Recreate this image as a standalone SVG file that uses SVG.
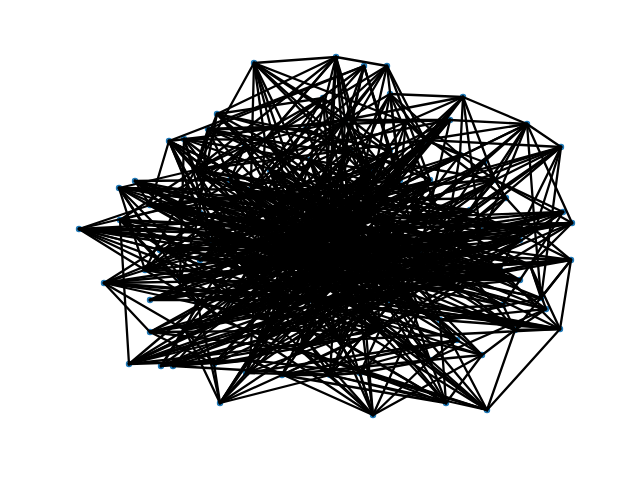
<svg xmlns="http://www.w3.org/2000/svg" width="640" height="480" viewBox="0 0 640 480">
<style>
rect.bg{fill:#fff}
#nodes circle{fill:#1f77b4}
#edges path{stroke:#000;stroke-width:2.3;fill:none;stroke-linecap:round}
</style>
<rect class="bg" width="640" height="480"/>
<g id="nodes">
<g id="a1"><circle cx="254" cy="63" r="3.2"/></g>
<g id="a2"><circle cx="336" cy="57" r="3.2"/></g>
<g id="a3"><circle cx="364" cy="66" r="3.2"/></g>
<g id="a4"><circle cx="387" cy="66" r="3.2"/></g>
<g id="a5"><circle cx="463" cy="97" r="3.2"/></g>
<g id="a6"><circle cx="527" cy="124" r="3.2"/></g>
<g id="a7"><circle cx="561" cy="147" r="3.2"/></g>
<g id="a8"><circle cx="217" cy="114" r="3.2"/></g>
<g id="a9"><circle cx="208" cy="129" r="3.2"/></g>
<g id="a10"><circle cx="169" cy="141" r="3.2"/></g>
<g id="a11"><circle cx="184" cy="139" r="3.2"/></g>
<g id="a12"><circle cx="135" cy="181" r="3.2"/></g>
<g id="a13"><circle cx="119" cy="188" r="3.2"/></g>
<g id="a14"><circle cx="79" cy="229" r="3.2"/></g>
<g id="a15"><circle cx="104" cy="283" r="3.2"/></g>
<g id="a16"><circle cx="150" cy="332" r="3.2"/></g>
<g id="a17"><circle cx="129" cy="364" r="3.2"/></g>
<g id="a18"><circle cx="161" cy="366" r="3.2"/></g>
<g id="a19"><circle cx="173" cy="366" r="3.2"/></g>
<g id="a20"><circle cx="220" cy="403" r="3.2"/></g>
<g id="a21"><circle cx="246" cy="373" r="3.2"/></g>
<g id="a22"><circle cx="282" cy="375" r="3.2"/></g>
<g id="a23"><circle cx="373" cy="415" r="3.2"/></g>
<g id="a24"><circle cx="446" cy="403" r="3.2"/></g>
<g id="a25"><circle cx="487" cy="410" r="3.2"/></g>
<g id="a26"><circle cx="482" cy="355" r="3.2"/></g>
<g id="a27"><circle cx="560" cy="329" r="3.2"/></g>
<g id="a28"><circle cx="546" cy="309" r="3.2"/></g>
<g id="a29"><circle cx="541" cy="298" r="3.2"/></g>
<g id="a30"><circle cx="571" cy="260" r="3.2"/></g>
<g id="a31"><circle cx="572" cy="223" r="3.2"/></g>
<g id="a32"><circle cx="563" cy="212" r="3.2"/></g>
<g id="a33"><circle cx="506" cy="198" r="3.2"/></g>
<g id="a34"><circle cx="484" cy="162" r="3.2"/></g>
<g id="a35"><circle cx="450" cy="120" r="3.2"/></g>
<g id="a36"><circle cx="406" cy="122" r="3.2"/></g>
<g id="a37"><circle cx="390" cy="94" r="3.2"/></g>
<g id="a38"><circle cx="323" cy="98" r="3.2"/></g>
<g id="a39"><circle cx="306" cy="129" r="3.2"/></g>
<g id="a40"><circle cx="245" cy="146" r="3.2"/></g>
<g id="a41"><circle cx="200" cy="213" r="3.2"/></g>
<g id="a42"><circle cx="120" cy="220" r="3.2"/></g>
<g id="a43"><circle cx="197" cy="302" r="3.2"/></g>
<g id="a44"><circle cx="214" cy="364" r="3.2"/></g>
<g id="a45"><circle cx="503" cy="305" r="3.2"/></g>
<g id="a46"><circle cx="457" cy="340" r="3.2"/></g>
<g id="a47"><circle cx="460" cy="155" r="3.2"/></g>
<g id="a48"><circle cx="360" cy="373" r="3.2"/></g>
<g id="i1"><circle cx="230" cy="180" r="3.2"/></g>
<g id="i2"><circle cx="270" cy="170" r="3.2"/></g>
<g id="i3"><circle cx="310" cy="160" r="3.2"/></g>
<g id="i4"><circle cx="350" cy="150" r="3.2"/></g>
<g id="i5"><circle cx="390" cy="150" r="3.2"/></g>
<g id="i6"><circle cx="430" cy="180" r="3.2"/></g>
<g id="i7"><circle cx="470" cy="210" r="3.2"/></g>
<g id="i8"><circle cx="520" cy="240" r="3.2"/></g>
<g id="i9"><circle cx="500" cy="270" r="3.2"/></g>
<g id="i10"><circle cx="460" cy="290" r="3.2"/></g>
<g id="i11"><circle cx="420" cy="310" r="3.2"/></g>
<g id="i12"><circle cx="380" cy="330" r="3.2"/></g>
<g id="i13"><circle cx="340" cy="340" r="3.2"/></g>
<g id="i14"><circle cx="300" cy="350" r="3.2"/></g>
<g id="i15"><circle cx="260" cy="340" r="3.2"/></g>
<g id="i16"><circle cx="220" cy="320" r="3.2"/></g>
<g id="i17"><circle cx="180" cy="280" r="3.2"/></g>
<g id="i18"><circle cx="160" cy="250" r="3.2"/></g>
<g id="i19"><circle cx="170" cy="210" r="3.2"/></g>
<g id="i20"><circle cx="210" cy="240" r="3.2"/></g>
<g id="i21"><circle cx="250" cy="220" r="3.2"/></g>
<g id="i22"><circle cx="290" cy="200" r="3.2"/></g>
<g id="i23"><circle cx="330" cy="190" r="3.2"/></g>
<g id="i24"><circle cx="370" cy="200" r="3.2"/></g>
<g id="i25"><circle cx="410" cy="220" r="3.2"/></g>
<g id="i26"><circle cx="450" cy="240" r="3.2"/></g>
<g id="i27"><circle cx="480" cy="230" r="3.2"/></g>
<g id="i28"><circle cx="440" cy="270" r="3.2"/></g>
<g id="i29"><circle cx="400" cy="270" r="3.2"/></g>
<g id="i30"><circle cx="360" cy="260" r="3.2"/></g>
<g id="i31"><circle cx="320" cy="250" r="3.2"/></g>
<g id="i32"><circle cx="280" cy="260" r="3.2"/></g>
<g id="i33"><circle cx="240" cy="270" r="3.2"/></g>
<g id="i34"><circle cx="200" cy="260" r="3.2"/></g>
<g id="i35"><circle cx="270" cy="300" r="3.2"/></g>
<g id="i36"><circle cx="310" cy="300" r="3.2"/></g>
<g id="i37"><circle cx="350" cy="300" r="3.2"/></g>
<g id="i38"><circle cx="390" cy="300" r="3.2"/></g>
<g id="i39"><circle cx="330" cy="220" r="3.2"/></g>
<g id="i40"><circle cx="290" cy="230" r="3.2"/></g>
<g id="i41"><circle cx="250" cy="190" r="3.2"/></g>
<g id="i42"><circle cx="350" cy="230" r="3.2"/></g>
<g id="i43"><circle cx="420" cy="250" r="3.2"/></g>
<g id="i44"><circle cx="230" cy="300" r="3.2"/></g>
<g id="i45"><circle cx="300" cy="280" r="3.2"/></g>
<g id="i46"><circle cx="370" cy="170" r="3.2"/></g>
<g id="i47"><circle cx="150" cy="300" r="3.2"/></g>
<g id="i48"><circle cx="520" cy="280" r="3.2"/></g>
<g id="r1"><circle cx="195" cy="170" r="3.2"/></g>
<g id="r2"><circle cx="265" cy="140" r="3.2"/></g>
<g id="r3"><circle cx="345" cy="120" r="3.2"/></g>
<g id="r4"><circle cx="425" cy="140" r="3.2"/></g>
<g id="r5"><circle cx="495" cy="180" r="3.2"/></g>
<g id="r6"><circle cx="535" cy="230" r="3.2"/></g>
<g id="r7"><circle cx="530" cy="265" r="3.2"/></g>
<g id="r8"><circle cx="515" cy="330" r="3.2"/></g>
<g id="r9"><circle cx="430" cy="360" r="3.2"/></g>
<g id="r10"><circle cx="330" cy="375" r="3.2"/></g>
<g id="r11"><circle cx="250" cy="360" r="3.2"/></g>
<g id="r12"><circle cx="185" cy="330" r="3.2"/></g>
<g id="r13"><circle cx="145" cy="270" r="3.2"/></g>
<g id="r14"><circle cx="150" cy="205" r="3.2"/></g>
<g id="r15"><circle cx="400" cy="180" r="3.2"/></g>
<g id="r16"><circle cx="270" cy="320" r="3.2"/></g>
<g id="r17"><circle cx="440" cy="320" r="3.2"/></g>
<g id="r18"><circle cx="200" cy="200" r="3.2"/></g>
</g>
<g id="edges">
<path d="M254 63L336 57"/><path d="M254 63L350 150"/><path d="M254 63L430 180"/><path d="M254 63L406 122"/><path d="M254 63L290 200"/><path d="M254 63L410 220"/><path d="M254 63L250 220"/>
<path d="M336 57L230 180"/><path d="M336 57L217 114"/><path d="M336 57L310 160"/><path d="M336 57L370 200"/><path d="M336 57L370 170"/><path d="M336 57L387 66"/><path d="M336 57L330 190"/>
<path d="M364 66L270 170"/><path d="M364 66L169 141"/><path d="M364 66L390 150"/><path d="M364 66L320 250"/><path d="M364 66L208 129"/><path d="M364 66L410 220"/>
<path d="M387 66L250 190"/><path d="M387 66L290 230"/><path d="M387 66L350 230"/><path d="M387 66L430 180"/><path d="M387 66L310 160"/>
<path d="M463 97L390 94"/><path d="M463 97L527 124"/><path d="M463 97L406 122"/><path d="M463 97L370 200"/><path d="M463 97L460 155"/><path d="M463 97L480 230"/><path d="M463 97L330 220"/>
<path d="M527 124L561 147"/><path d="M527 124L450 120"/><path d="M527 124L484 162"/><path d="M527 124L450 240"/><path d="M527 124L410 220"/><path d="M527 124L460 290"/><path d="M527 124L572 223"/>
<path d="M561 147L500 270"/><path d="M561 147L420 250"/><path d="M561 147L470 210"/><path d="M561 147L450 240"/><path d="M561 147L541 298"/>
<path d="M217 114L350 150"/><path d="M217 114L390 150"/><path d="M217 114L323 98"/><path d="M217 114L350 230"/><path d="M217 114L360 260"/><path d="M217 114L245 146"/>
<path d="M208 129L310 160"/><path d="M208 129L370 200"/><path d="M208 129L306 129"/><path d="M208 129L320 250"/><path d="M208 129L250 220"/><path d="M208 129L450 120"/>
<path d="M169 141L290 230"/><path d="M169 141L240 270"/><path d="M169 141L290 200"/><path d="M169 141L210 240"/><path d="M169 141L200 213"/><path d="M169 141L330 220"/><path d="M169 141L250 220"/>
<path d="M184 139L330 190"/><path d="M184 139L250 190"/><path d="M184 139L280 260"/><path d="M184 139L180 280"/><path d="M184 139L370 170"/><path d="M184 139L230 300"/>
<path d="M135 181L250 220"/><path d="M135 181L230 180"/><path d="M135 181L290 230"/><path d="M135 181L240 270"/><path d="M135 181L200 213"/><path d="M135 181L300 280"/>
<path d="M119 188L160 250"/><path d="M119 188L230 300"/><path d="M119 188L330 220"/><path d="M119 188L280 260"/><path d="M119 188L197 302"/><path d="M119 188L210 240"/>
<path d="M79 229L250 220"/><path d="M79 229L200 260"/><path d="M79 229L280 260"/><path d="M79 229L320 250"/><path d="M79 229L210 240"/><path d="M79 229L160 250"/><path d="M79 229L270 300"/>
<path d="M120 220L290 230"/><path d="M120 220L240 270"/><path d="M120 220L310 300"/><path d="M120 220L197 302"/><path d="M120 220L220 320"/>
<path d="M104 283L250 190"/><path d="M104 283L240 270"/><path d="M104 283L230 300"/><path d="M104 283L150 332"/><path d="M104 283L300 280"/><path d="M104 283L210 240"/>
<path d="M150 332L280 260"/><path d="M150 332L270 300"/><path d="M150 332L300 350"/><path d="M150 332L310 300"/><path d="M150 332L214 364"/>
<path d="M129 364L120 220"/><path d="M129 364L240 270"/><path d="M129 364L220 320"/><path d="M129 364L270 300"/><path d="M129 364L340 340"/><path d="M129 364L310 300"/><path d="M129 364L300 280"/>
<path d="M161 366L250 220"/><path d="M161 366L320 250"/><path d="M161 366L350 300"/><path d="M161 366L260 340"/>
<path d="M173 366L310 300"/><path d="M173 366L380 330"/><path d="M173 366L390 300"/><path d="M173 366L230 300"/>
<path d="M220 403L214 364"/><path d="M220 403L260 340"/><path d="M220 403L310 300"/><path d="M220 403L300 350"/><path d="M220 403L197 302"/><path d="M220 403L282 375"/>
<path d="M246 373L350 300"/><path d="M246 373L420 310"/><path d="M246 373L457 340"/>
<path d="M282 375L446 403"/><path d="M282 375L457 340"/><path d="M282 375L380 330"/><path d="M282 375L460 290"/>
<path d="M373 415L300 350"/><path d="M373 415L260 340"/><path d="M373 415L420 310"/><path d="M373 415L482 355"/><path d="M373 415L360 373"/><path d="M373 415L340 340"/><path d="M373 415L270 300"/>
<path d="M446 403L220 320"/><path d="M446 403L270 300"/><path d="M446 403L340 340"/><path d="M446 403L482 355"/><path d="M446 403L350 300"/>
<path d="M487 410L560 329"/><path d="M487 410L300 350"/><path d="M487 410L380 330"/><path d="M487 410L360 373"/><path d="M487 410L260 340"/><path d="M487 410L350 300"/>
<path d="M482 355L380 330"/><path d="M482 355L310 300"/><path d="M482 355L400 270"/><path d="M482 355L390 300"/>
<path d="M560 329L500 270"/><path d="M560 329L420 310"/><path d="M560 329L390 300"/><path d="M560 329L440 270"/><path d="M560 329L350 300"/><path d="M560 329L571 260"/>
<path d="M546 309L460 290"/><path d="M546 309L450 240"/><path d="M546 309L400 270"/><path d="M546 309L350 230"/>
<path d="M541 298L360 260"/><path d="M541 298L400 270"/><path d="M541 298L420 250"/>
<path d="M571 260L440 270"/><path d="M571 260L400 270"/><path d="M571 260L470 210"/><path d="M571 260L320 250"/><path d="M571 260L541 298"/>
<path d="M572 223L450 240"/><path d="M572 223L390 300"/><path d="M572 223L350 230"/><path d="M572 223L460 290"/>
<path d="M563 212L420 250"/><path d="M563 212L480 230"/><path d="M563 212L420 310"/><path d="M563 212L350 300"/><path d="M563 212L360 260"/>
<path d="M506 198L440 270"/><path d="M506 198L370 200"/><path d="M506 198L380 330"/><path d="M506 198L400 270"/>
<path d="M484 162L390 300"/><path d="M484 162L410 220"/><path d="M484 162L350 230"/><path d="M484 162L360 260"/><path d="M484 162L506 198"/>
<path d="M450 120L350 230"/><path d="M450 120L420 250"/><path d="M450 120L370 200"/><path d="M450 120L330 220"/><path d="M450 120L290 200"/>
<path d="M406 122L360 260"/><path d="M406 122L250 190"/><path d="M406 122L320 250"/><path d="M406 122L506 198"/>
<path d="M390 94L350 300"/><path d="M390 94L330 190"/><path d="M390 94L330 220"/><path d="M390 94L460 155"/><path d="M390 94L450 240"/>
<path d="M323 98L390 150"/><path d="M323 98L330 190"/><path d="M323 98L250 220"/><path d="M323 98L250 190"/><path d="M323 98L360 260"/>
<path d="M306 129L270 170"/><path d="M306 129L350 230"/><path d="M306 129L430 180"/><path d="M306 129L480 230"/>
<path d="M245 146L370 200"/><path d="M245 146L230 180"/><path d="M245 146L290 230"/><path d="M245 146L320 250"/><path d="M245 146L170 210"/>
<path d="M200 213L320 250"/><path d="M200 213L360 260"/><path d="M200 213L270 300"/><path d="M200 213L180 280"/>
<path d="M197 302L360 260"/><path d="M197 302L340 340"/><path d="M197 302L400 270"/><path d="M197 302L260 340"/>
<path d="M214 364L340 340"/><path d="M214 364L320 250"/><path d="M214 364L350 300"/><path d="M214 364L270 300"/>
<path d="M503 305L280 260"/><path d="M503 305L360 260"/><path d="M503 305L420 310"/><path d="M503 305L460 290"/><path d="M503 305L440 270"/>
<path d="M457 340L240 270"/><path d="M457 340L360 260"/><path d="M457 340L310 300"/><path d="M457 340L420 310"/>
<path d="M460 155L410 220"/><path d="M460 155L440 270"/><path d="M460 155L250 220"/><path d="M460 155L330 220"/>
<path d="M360 373L310 300"/><path d="M360 373L240 270"/><path d="M360 373L420 310"/><path d="M360 373L380 330"/>
<path d="M230 180L520 240"/><path d="M230 180L400 270"/><path d="M230 180L300 280"/>
<path d="M270 170L390 300"/><path d="M270 170L360 260"/><path d="M270 170L460 290"/>
<path d="M310 160L240 270"/><path d="M310 160L220 320"/><path d="M310 160L440 270"/>
<path d="M350 150L200 260"/><path d="M350 150L270 300"/><path d="M350 150L500 270"/>
<path d="M390 150L180 280"/><path d="M390 150L230 300"/><path d="M390 150L320 250"/>
<path d="M430 180L210 240"/><path d="M430 180L310 300"/><path d="M430 180L260 340"/>
<path d="M470 210L290 230"/><path d="M470 210L240 270"/><path d="M470 210L340 340"/>
<path d="M520 240L280 260"/><path d="M520 240L380 330"/>
<path d="M500 270L250 220"/><path d="M500 270L310 300"/>
<path d="M460 290L170 210"/><path d="M460 290L290 200"/>
<path d="M420 310L230 180"/><path d="M420 310L330 190"/>
<path d="M380 330L250 190"/><path d="M380 330L370 200"/>
<path d="M340 340L270 170"/><path d="M340 340L370 170"/>
<path d="M300 350L390 150"/><path d="M300 350L410 220"/>
<path d="M260 340L450 240"/><path d="M260 340L370 200"/>
<path d="M220 320L480 230"/><path d="M220 320L420 250"/>
<path d="M180 280L350 230"/><path d="M180 280L450 240"/>
<path d="M160 250L330 220"/><path d="M160 250L420 250"/>
<path d="M170 210L400 270"/><path d="M170 210L350 300"/>
<path d="M210 240L500 270"/><path d="M210 240L380 330"/>
<path d="M250 220L390 300"/><path d="M250 220L440 270"/>
<path d="M290 200L300 280"/><path d="M290 200L520 280"/>
<path d="M330 190L200 260"/><path d="M330 190L300 350"/>
<path d="M370 200L230 300"/><path d="M370 200L200 260"/>
<path d="M410 220L240 270"/><path d="M410 220L270 300"/>
<path d="M450 240L250 190"/><path d="M450 240L300 350"/>
<path d="M480 230L300 280"/><path d="M480 230L280 260"/>
<path d="M440 270L290 230"/><path d="M440 270L300 350"/>
<path d="M400 270L250 190"/><path d="M400 270L150 300"/>
<path d="M360 260L150 300"/><path d="M360 260L170 210"/>
<path d="M320 250L520 280"/><path d="M320 250L470 210"/>
<path d="M280 260L430 180"/><path d="M280 260L370 170"/>
<path d="M240 270L370 170"/><path d="M200 260L520 280"/><path d="M270 300L370 170"/><path d="M310 300L390 150"/>
<path d="M350 300L230 180"/><path d="M350 300L250 190"/><path d="M390 300L160 250"/>
<path d="M330 220L260 340"/><path d="M330 220L420 310"/><path d="M290 230L460 290"/>
<path d="M350 230L220 320"/><path d="M350 230L150 300"/><path d="M420 250L200 260"/>
<path d="M230 300L450 240"/><path d="M300 280L520 240"/><path d="M370 170L160 250"/>
<path d="M150 300L390 300"/><path d="M520 280L310 160"/><path d="M520 280L210 240"/>
<path d="M230 300L380 330"/><path d="M300 280L430 180"/><path d="M180 280L460 290"/><path d="M170 210L370 170"/>
<path d="M230 180L460 290"/><path d="M230 180L390 300"/><path d="M230 180L450 240"/><path d="M230 180L340 340"/>
<path d="M270 170L440 270"/><path d="M270 170L380 330"/><path d="M270 170L310 300"/><path d="M270 170L500 270"/>
<path d="M310 160L260 340"/><path d="M310 160L350 300"/><path d="M310 160L230 300"/><path d="M310 160L520 240"/>
<path d="M350 150L220 320"/><path d="M350 150L310 300"/><path d="M350 150L420 310"/><path d="M350 150L240 270"/>
<path d="M390 150L270 300"/><path d="M390 150L260 340"/><path d="M390 150L210 240"/><path d="M390 150L280 260"/>
<path d="M430 180L240 270"/><path d="M430 180L340 340"/><path d="M430 180L230 300"/><path d="M430 180L200 260"/>
<path d="M470 210L200 260"/><path d="M470 210L260 340"/><path d="M470 210L310 300"/><path d="M470 210L290 200"/>
<path d="M520 240L250 220"/><path d="M520 240L270 300"/><path d="M520 240L290 230"/><path d="M520 240L300 350"/>
<path d="M500 270L280 260"/><path d="M500 270L290 230"/><path d="M500 270L250 190"/><path d="M500 270L330 190"/>
<path d="M460 290L250 220"/><path d="M460 290L240 270"/><path d="M460 290L330 190"/><path d="M460 290L310 160"/>
<path d="M420 310L210 240"/><path d="M420 310L280 260"/><path d="M420 310L250 190"/><path d="M420 310L270 170"/>
<path d="M380 330L160 250"/><path d="M380 330L250 220"/><path d="M380 330L290 200"/><path d="M380 330L310 160"/>
<path d="M340 340L210 240"/><path d="M340 340L410 220"/><path d="M340 340L370 200"/><path d="M340 340L250 190"/>
<path d="M300 350L480 230"/><path d="M300 350L370 200"/><path d="M300 350L350 230"/><path d="M300 350L430 180"/>
<path d="M260 340L440 270"/><path d="M260 340L350 230"/><path d="M260 340L330 190"/><path d="M260 340L480 230"/>
<path d="M220 320L450 240"/><path d="M220 320L360 260"/><path d="M220 320L410 220"/><path d="M220 320L370 200"/>
<path d="M180 280L420 250"/><path d="M180 280L480 230"/><path d="M180 280L360 260"/><path d="M180 280L370 200"/>
<path d="M160 250L350 230"/><path d="M160 250L400 270"/><path d="M160 250L450 240"/><path d="M160 250L300 280"/>
<path d="M170 210L320 250"/><path d="M170 210L420 250"/><path d="M170 210L390 300"/><path d="M170 210L350 230"/>
<path d="M210 240L400 270"/><path d="M210 240L450 240"/><path d="M210 240L360 260"/><path d="M210 240L420 250"/>
<path d="M150 300L320 250"/><path d="M150 300L400 270"/><path d="M150 300L330 220"/><path d="M150 300L350 230"/>
<path d="M520 280L280 260"/><path d="M520 280L290 230"/><path d="M520 280L330 220"/><path d="M520 280L310 300"/><path d="M520 280L300 280"/>
<path d="M300 280L420 250"/><path d="M300 280L450 240"/><path d="M300 280L370 200"/><path d="M300 280L500 270"/>
<path d="M370 170L310 300"/><path d="M370 170L300 350"/><path d="M370 170L300 280"/><path d="M370 170L230 300"/>
<path d="M290 200L390 300"/><path d="M290 200L400 270"/><path d="M290 200L420 250"/>
<path d="M330 190L270 300"/><path d="M330 190L230 300"/><path d="M330 190L340 340"/>
<path d="M330 220L230 300"/><path d="M330 220L350 300"/><path d="M330 220L310 300"/>
<path d="M250 190L310 300"/><path d="M250 190L320 250"/><path d="M250 190L420 250"/>
<path d="M290 230L350 300"/><path d="M290 230L390 300"/><path d="M290 230L420 250"/>
<path d="M350 230L240 270"/><path d="M350 230L270 300"/><path d="M350 230L300 350"/>
<path d="M79 229L350 230"/><path d="M79 229L360 260"/><path d="M79 229L450 240"/>
<path d="M119 188L290 200"/><path d="M119 188L250 190"/><path d="M119 188L320 250"/>
<path d="M135 181L330 220"/><path d="M135 181L280 260"/>
<path d="M169 141L320 250"/><path d="M169 141L350 230"/>
<path d="M120 220L320 250"/><path d="M120 220L350 230"/><path d="M120 220L360 260"/>
<path d="M104 283L310 300"/><path d="M104 283L320 250"/><path d="M104 283L350 300"/>
<path d="M129 364L350 300"/><path d="M129 364L390 300"/>
<path d="M150 332L350 300"/><path d="M150 332L380 330"/><path d="M150 332L320 250"/>
<path d="M572 223L320 250"/><path d="M572 223L360 260"/><path d="M572 223L290 230"/>
<path d="M571 260L350 300"/><path d="M571 260L350 230"/><path d="M571 260L300 280"/>
<path d="M563 212L350 230"/><path d="M563 212L330 220"/><path d="M563 212L320 250"/>
<path d="M560 329L310 300"/><path d="M560 329L340 340"/><path d="M560 329L300 280"/>
<path d="M561 147L350 230"/><path d="M561 147L370 200"/><path d="M561 147L330 220"/>
<path d="M527 124L330 220"/><path d="M527 124L370 200"/>
<path d="M463 97L350 230"/><path d="M463 97L320 250"/>
<path d="M336 57L320 250"/><path d="M336 57L350 230"/><path d="M364 66L330 220"/>
<path d="M254 63L320 250"/><path d="M254 63L330 220"/>
<path d="M373 415L320 250"/><path d="M373 415L350 230"/><path d="M373 415L360 260"/>
<path d="M487 410L310 300"/><path d="M487 410L360 260"/>
<path d="M220 403L320 250"/><path d="M220 403L360 260"/>
<path d="M446 403L320 250"/><path d="M446 403L360 260"/>
<path d="M282 375L360 260"/><path d="M282 375L350 230"/>
<path d="M195 170L425 140"/><path d="M195 170L535 230"/><path d="M195 170L430 360"/><path d="M195 170L270 320"/><path d="M195 170L470 210"/><path d="M195 170L450 120"/><path d="M195 170L145 270"/>
<path d="M265 140L495 180"/><path d="M265 140L530 265"/><path d="M265 140L250 360"/><path d="M265 140L420 310"/><path d="M265 140L440 320"/><path d="M265 140L150 205"/>
<path d="M345 120L185 330"/><path d="M345 120L330 375"/><path d="M345 120L515 330"/><path d="M345 120L200 260"/><path d="M345 120L200 200"/><path d="M345 120L169 141"/>
<path d="M425 140L145 270"/><path d="M425 140L250 360"/><path d="M425 140L220 320"/><path d="M425 140L270 320"/><path d="M425 140L250 220"/>
<path d="M495 180L185 330"/><path d="M495 180L150 205"/><path d="M495 180L270 300"/><path d="M495 180L330 375"/><path d="M495 180L200 200"/>
<path d="M535 230L145 270"/><path d="M535 230L200 200"/><path d="M535 230L250 190"/><path d="M535 230L250 360"/><path d="M535 230L220 320"/>
<path d="M530 265L195 170"/><path d="M530 265L150 205"/><path d="M530 265L290 200"/><path d="M530 265L185 330"/>
<path d="M515 330L150 205"/><path d="M515 330L195 170"/><path d="M515 330L200 200"/><path d="M515 330L270 170"/><path d="M515 330L265 140"/>
<path d="M430 360L150 205"/><path d="M430 360L265 140"/><path d="M430 360L200 200"/><path d="M430 360L310 160"/><path d="M430 360L345 120"/>
<path d="M330 375L425 140"/><path d="M330 375L195 170"/><path d="M330 375L430 180"/><path d="M330 375L495 180"/>
<path d="M250 360L400 180"/><path d="M250 360L495 180"/><path d="M250 360L480 230"/><path d="M250 360L345 120"/>
<path d="M185 330L400 180"/><path d="M185 330L535 230"/><path d="M185 330L520 240"/><path d="M185 330L425 140"/>
<path d="M145 270L400 180"/><path d="M145 270L495 180"/><path d="M145 270L520 280"/><path d="M145 270L440 320"/><path d="M145 270L345 120"/>
<path d="M150 205L440 320"/><path d="M150 205L535 230"/><path d="M150 205L400 180"/><path d="M150 205L500 270"/>
<path d="M400 180L270 320"/><path d="M400 180L200 200"/><path d="M400 180L150 300"/>
<path d="M270 320L495 180"/><path d="M270 320L535 230"/><path d="M270 320L530 265"/><path d="M270 320L345 120"/>
<path d="M440 320L200 200"/><path d="M440 320L195 170"/><path d="M440 320L345 120"/><path d="M440 320L170 210"/>
<path d="M200 200L530 265"/><path d="M200 200L520 280"/><path d="M200 200L460 290"/>
<path d="M79 229L150 205"/><path d="M79 229L200 200"/><path d="M79 229L145 270"/><path d="M79 229L270 320"/>
<path d="M120 220L195 170"/><path d="M120 220L270 320"/><path d="M120 220L200 200"/>
<path d="M119 188L195 170"/><path d="M119 188L145 270"/><path d="M119 188L200 200"/>
<path d="M135 181L200 200"/><path d="M135 181L150 205"/>
<path d="M104 283L145 270"/><path d="M104 283L185 330"/><path d="M104 283L270 320"/>
<path d="M129 364L185 330"/><path d="M129 364L250 360"/><path d="M129 364L270 320"/>
<path d="M161 366L185 330"/><path d="M161 366L250 360"/><path d="M161 366L270 320"/>
<path d="M173 366L250 360"/><path d="M173 366L330 375"/><path d="M173 366L270 320"/>
<path d="M220 403L250 360"/><path d="M220 403L330 375"/><path d="M220 403L185 330"/>
<path d="M246 373L270 320"/><path d="M246 373L330 375"/><path d="M246 373L250 360"/>
<path d="M282 375L250 360"/><path d="M282 375L330 375"/><path d="M282 375L430 360"/>
<path d="M373 415L330 375"/><path d="M373 415L430 360"/><path d="M373 415L270 320"/><path d="M373 415L250 360"/>
<path d="M446 403L430 360"/><path d="M446 403L440 320"/><path d="M446 403L330 375"/>
<path d="M487 410L430 360"/><path d="M487 410L515 330"/><path d="M487 410L440 320"/><path d="M487 410L330 375"/>
<path d="M482 355L430 360"/><path d="M482 355L440 320"/><path d="M482 355L515 330"/>
<path d="M457 340L430 360"/><path d="M457 340L440 320"/><path d="M457 340L330 375"/>
<path d="M560 329L515 330"/><path d="M560 329L530 265"/><path d="M560 329L440 320"/>
<path d="M546 309L515 330"/><path d="M546 309L530 265"/><path d="M546 309L440 320"/><path d="M546 309L430 360"/>
<path d="M541 298L530 265"/><path d="M541 298L535 230"/><path d="M541 298L440 320"/>
<path d="M571 260L530 265"/><path d="M571 260L535 230"/><path d="M571 260L515 330"/>
<path d="M572 223L535 230"/><path d="M572 223L495 180"/><path d="M572 223L530 265"/>
<path d="M563 212L535 230"/><path d="M563 212L495 180"/><path d="M563 212L530 265"/>
<path d="M561 147L495 180"/><path d="M561 147L535 230"/><path d="M561 147L425 140"/>
<path d="M527 124L495 180"/><path d="M527 124L425 140"/><path d="M527 124L535 230"/>
<path d="M463 97L425 140"/><path d="M463 97L495 180"/><path d="M463 97L345 120"/><path d="M463 97L400 180"/>
<path d="M450 120L425 140"/><path d="M450 120L400 180"/><path d="M450 120L345 120"/>
<path d="M406 122L345 120"/><path d="M406 122L400 180"/><path d="M406 122L425 140"/>
<path d="M390 94L345 120"/><path d="M390 94L425 140"/><path d="M390 94L400 180"/>
<path d="M387 66L345 120"/><path d="M387 66L265 140"/><path d="M387 66L425 140"/><path d="M387 66L400 180"/>
<path d="M364 66L345 120"/><path d="M364 66L265 140"/><path d="M364 66L400 180"/>
<path d="M336 57L265 140"/><path d="M336 57L345 120"/><path d="M336 57L195 170"/>
<path d="M254 63L265 140"/><path d="M254 63L195 170"/><path d="M254 63L345 120"/>
<path d="M323 98L265 140"/><path d="M323 98L195 170"/>
<path d="M306 129L265 140"/><path d="M306 129L345 120"/>
<path d="M217 114L195 170"/><path d="M217 114L265 140"/><path d="M217 114L200 200"/>
<path d="M208 129L195 170"/><path d="M208 129L265 140"/><path d="M208 129L200 200"/>
<path d="M169 141L195 170"/><path d="M169 141L150 205"/><path d="M169 141L200 200"/>
<path d="M184 139L195 170"/><path d="M184 139L265 140"/>
<path d="M245 146L195 170"/><path d="M245 146L265 140"/><path d="M245 146L200 200"/>
<path d="M200 213L150 205"/><path d="M200 213L145 270"/><path d="M200 213L200 200"/>
<path d="M197 302L145 270"/><path d="M197 302L185 330"/><path d="M197 302L270 320"/>
<path d="M214 364L185 330"/><path d="M214 364L250 360"/><path d="M214 364L270 320"/>
<path d="M360 373L330 375"/><path d="M360 373L250 360"/><path d="M360 373L430 360"/>
<path d="M503 305L515 330"/><path d="M503 305L440 320"/><path d="M503 305L530 265"/>
<path d="M460 155L425 140"/><path d="M460 155L495 180"/><path d="M460 155L400 180"/>
<path d="M506 198L495 180"/><path d="M506 198L535 230"/>
<path d="M484 162L495 180"/><path d="M484 162L425 140"/>
</g>
</svg>
